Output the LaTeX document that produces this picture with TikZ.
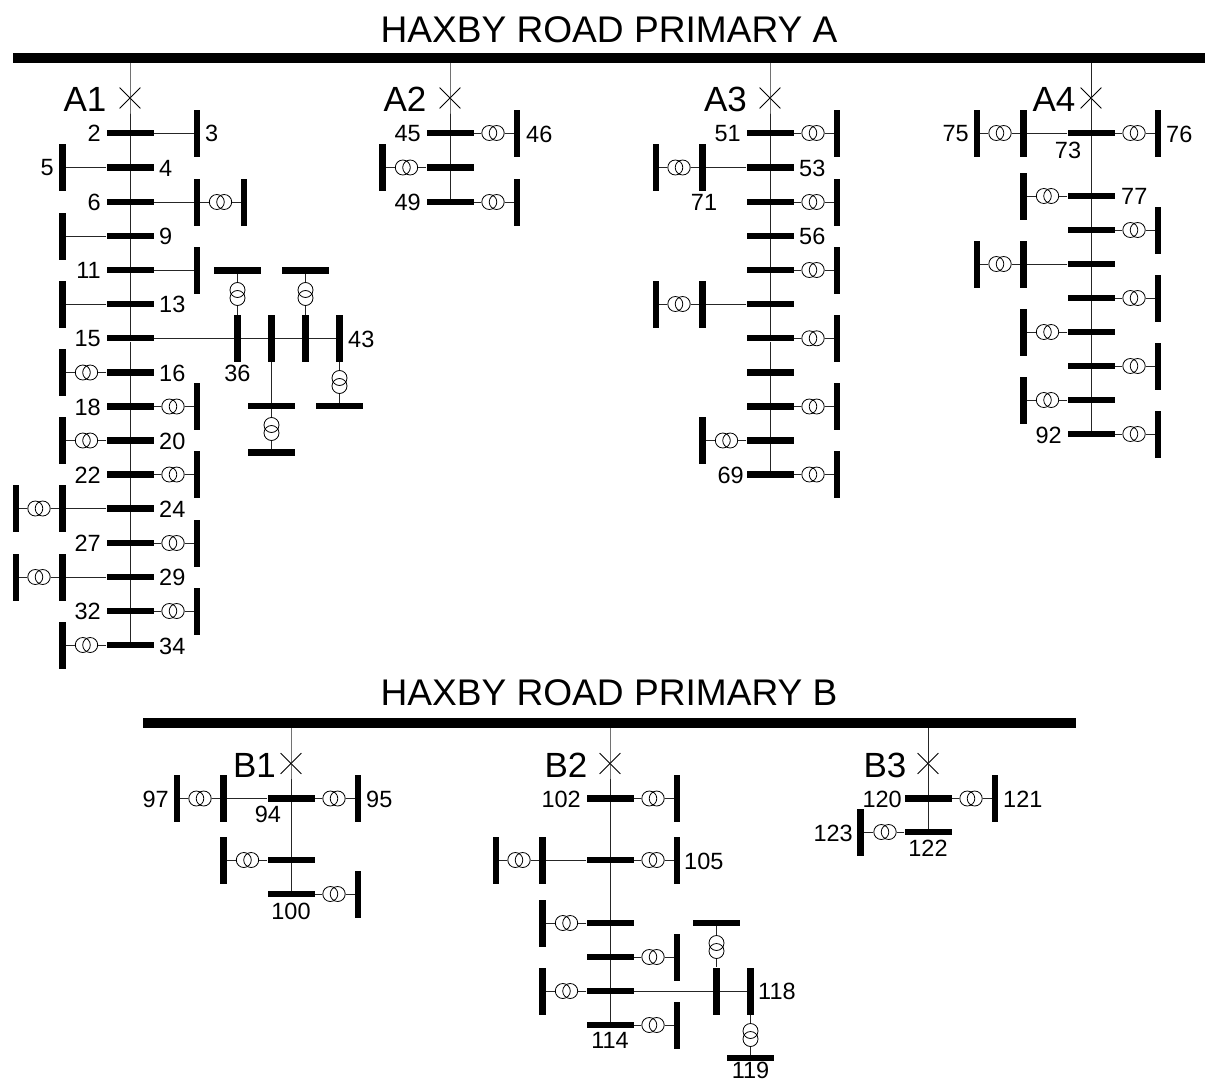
\documentclass[tikz,border=0pt]{standalone}
\usepackage{fontspec}
\setmainfont{Liberation Sans}
\usetikzlibrary{shapes.misc}
\tikzset{
  hbus/.style={rectangle,fill=black,minimum width=47pt,minimum height=6.3pt,inner sep=0pt},
  vbus/.style={rectangle,fill=black,minimum width=6.3pt,minimum height=47pt,inner sep=0pt},
  mainbus/.style={rectangle,fill=black,inner sep=0pt},
  xc/.style={circle,draw=black,line width=0.8pt,minimum size=15pt,inner sep=0pt},
  wire/.style={draw=black!85,line width=1pt},
  breaker/.style={cross out,draw=black,line width=0.8pt,minimum size=20pt,inner sep=0pt},
  num/.style={font=\fontsize{23.5}{24}\selectfont,inner sep=0pt,text=black},
  feeder/.style={font=\fontsize{35}{36}\selectfont,inner sep=0pt,text=black},
  head/.style={font=\fontsize{37.1}{38}\selectfont,inner sep=0pt,text=black}
}
\newcommand\HB[3]{\node[hbus] (#1) at (#2,#3) {};}
\newcommand\VB[3]{\node[vbus] (#1) at (#2,#3) {};}
\newcommand\XFH[3]{\node[xc] (#1a) at (#2-3.7,#3) {};\node[xc] (#1b) at (#2+3.7,#3) {};}
\newcommand\XFV[3]{\node[xc] (#1a) at (#2,#3-4) {};\node[xc] (#1b) at (#2,#3+4) {};}
% bar #1 at x=#2,y=#3: right / left branches
\newcommand\RX[3]{\XFH{#1r}{#2+43}{#3}\VB{#1R}{#2+67}{#3}\draw[wire] (#1) -- (#1ra);\draw[wire] (#1rb) -- (#1R);}
\newcommand\LX[3]{\XFH{#1l}{#2-43.5}{#3}\VB{#1L}{#2-67.5}{#3}\draw[wire] (#1) -- (#1lb);\draw[wire] (#1la) -- (#1L);}
\newcommand\RP[3]{\VB{#1R}{#2+67}{#3}\draw[wire] (#1) -- (#1R);}
\newcommand\LP[3]{\VB{#1L}{#2-67.5}{#3}\draw[wire] (#1) -- (#1L);}
\newcommand\LPX[3]{\LP{#1}{#2}{#3}\XFH{#1l}{#2-91}{#3}\VB{#1F}{#2-114}{#3}\draw[wire] (#1L) -- (#1lb);\draw[wire] (#1la) -- (#1F);}
\newcommand\E[3]{\node[num,anchor=east] (t#1) at (#2,#3) {#1};}
\newcommand\W[3]{\node[num,anchor=west] (t#1) at (#2,#3) {#1};}
\newcommand\C[3]{\node[num] (t#1) at (#2,#3) {#1};}
\begin{document}
\begin{tikzpicture}[x=1pt,y=-1pt]
\useasboundingbox (0,0) rectangle (1205,1081);
% main busbars
\node[mainbus,minimum width=1192pt,minimum height=10pt] (busA) at (609,58) {};
\node[mainbus,minimum width=933pt,minimum height=10pt] (busB) at (609.5,723) {};
\node[head] (titleA) at (609,30) {HAXBY ROAD PRIMARY A};
\node[head] (titleB) at (609,693) {HAXBY ROAD PRIMARY B};
% feeder names
\node[feeder] (nA1) at (85,99) {A1};
\node[feeder] (nA2) at (405,99) {A2};
\node[feeder] (nA3) at (725.5,99) {A3};
\node[feeder] (nA4) at (1054,99) {A4};
\node[feeder] (nB1) at (254.5,765) {B1};
\node[feeder] (nB2) at (566,765) {B2};
\node[feeder] (nB3) at (885,765) {B3};
% breakers
\node[breaker] (xA1) at (130,98) {};
\node[breaker] (xA2) at (450,98) {};
\node[breaker] (xA3) at (770,98) {};
\node[breaker] (xA4) at (1091,98) {};
\node[breaker] (xB1) at (291,763.5) {};
\node[breaker] (xB2) at (610,763.5) {};
\node[breaker] (xB3) at (928,763.5) {};
% ---------- A1
\HB{aa}{130}{133}\HB{ab}{130}{167.5}\HB{ac}{130}{202}\HB{ad}{130}{236}
\HB{ae}{130}{270}\HB{af}{130}{304}\HB{ag}{130}{338.3}\HB{ah}{130}{372.5}
\HB{ai}{130}{406.5}\HB{aj}{130}{440.5}\HB{ak}{130}{474.5}\HB{al}{130}{508.5}
\HB{am}{130}{543}\HB{an}{130}{577}\HB{ao}{130}{611}\HB{ap}{130}{645}
\draw[wire] (busA.south -| xA1) -- (xA1.center) -- (aa) -- (ab) -- (ac) -- (ad) -- (ae) -- (af) -- (ag) -- (ah) -- (ai) -- (aj) -- (ak) -- (al) -- (am) -- (an) -- (ao) -- (ap);
\RP{aa}{130}{133}\LP{ab}{130}{167.5}
\RP{ac}{130}{202}\XFH{acx}{220.5}{202}\VB{acF}{244}{202}\draw[wire] (acR) -- (acxa);\draw[wire] (acxb) -- (acF);
\LP{ad}{130}{236}\RP{ae}{130}{270}\LP{af}{130}{304}
\LX{ah}{130}{372.5}\RX{ai}{130}{406.5}\LX{aj}{130}{440.5}\RX{ak}{130}{474.5}
\LPX{al}{130}{508.5}\RX{am}{130}{543}\LPX{an}{130}{577}\RX{ao}{130}{611}\LX{ap}{130}{645}
% sub-branch of 15
\VB{v36}{237.5}{338.3}\VB{vb}{271.5}{338.3}\VB{vc}{305.5}{338.3}\VB{v43}{339.5}{338.3}
\draw[wire] (ag) -- (v36) -- (vb) -- (vc) -- (v43);
\HB{h36}{237.5}{270.5}\XFV{x36}{237.5}{294}\draw[wire] (h36) -- (x36a);\draw[wire] (x36b) -- (v36);
\HB{hc}{305.5}{270.5}\XFV{xc3}{305.5}{294}\draw[wire] (hc) -- (xc3a);\draw[wire] (xc3b) -- (vc);
\HB{hb1}{271.5}{406}\draw[wire] (vb) -- (hb1);
\XFV{xb1}{271.5}{429}\HB{hb2}{271.5}{452.5}\draw[wire] (hb1) -- (xb1a);\draw[wire] (xb1b) -- (hb2);
\XFV{x43}{339.5}{382}\HB{h43}{339.5}{406}\draw[wire] (v43) -- (x43a);\draw[wire] (x43b) -- (h43);
\E{2}{101}{133.5}\W{3}{205}{133.5}\W{4}{159}{168}\E{5}{54}{168}\E{6}{101}{202.5}\W{9}{159}{236.5}
\E{11}{101}{270.5}\W{13}{159}{304.5}\E{15}{101}{339}\W{16}{159}{373}\E{18}{101}{407}\W{20}{159}{441}
\E{22}{101}{475}\W{24}{159}{509}\E{27}{101}{543.5}\W{29}{159}{577.5}\E{32}{101}{611.5}\W{34}{159}{646}
\C{36}{237.5}{373}\W{43}{348}{339}
% ---------- A2
\HB{ba}{450}{133}\HB{bb}{450}{167.5}\HB{bc}{450}{202}
\draw[wire] (busA.south -| xA2) -- (xA2.center) -- (ba) -- (bb) -- (bc);
\RX{ba}{450}{133}\LX{bb}{450}{167.5}\RX{bc}{450}{202}
\E{45}{421}{134}\W{46}{526}{134}\E{49}{421}{202.5}
% ---------- A3
\HB{ca}{770}{133}\HB{cb}{770}{167.5}\HB{cc}{770}{202}\HB{cd}{770}{236}\HB{ce}{770}{270}\HB{cf}{770}{304}
\HB{cg}{770}{338.3}\HB{ch}{770}{372.5}\HB{ci}{770}{406.5}\HB{cj}{770}{440.5}\HB{ck}{770}{474.5}
\draw[wire] (busA.south -| xA3) -- (xA3.center) -- (ca) -- (cb) -- (cc) -- (cd) -- (ce) -- (cf) -- (cg) -- (ch) -- (ci) -- (cj) -- (ck);
\RX{ca}{770}{133}\LPX{cb}{770}{167.5}\RX{cc}{770}{202}\RX{ce}{770}{270}\LPX{cf}{770}{304}
\RX{cg}{770}{338.3}\RX{ci}{770}{406.5}\LX{cj}{770}{440.5}\RX{ck}{770}{474.5}
\E{51}{741}{134}\W{53}{799}{168}\W{56}{799}{236.5}\C{71}{704}{202}\E{69}{744}{475}
% ---------- A4
\HB{da}{1091}{133}\HB{db}{1091}{196}\HB{dc}{1091}{230}\HB{dd}{1091}{264}\HB{de}{1091}{298}
\HB{df}{1091}{332}\HB{dg}{1091}{366}\HB{dh}{1091}{400}\HB{di}{1091}{434}
\draw[wire] (busA.south -| xA4) -- (xA4.center) -- (da) -- (db) -- (dc) -- (dd) -- (de) -- (df) -- (dg) -- (dh) -- (di);
\RX{da}{1091}{133}\LPX{da}{1091}{133}\LX{db}{1091}{196}\RX{dc}{1091}{230}\LPX{dd}{1091}{264}
\RX{de}{1091}{298}\LX{df}{1091}{332}\RX{dg}{1091}{366}\LX{dh}{1091}{400}\RX{di}{1091}{434}
\E{75}{969}{134}\W{76}{1166}{134}\C{73}{1068}{150}\W{77}{1121}{196}\E{92}{1062}{435}
% ---------- B1
\HB{ea}{291}{798.5}\HB{eb}{291}{860}\HB{ec}{291}{894}
\draw[wire] (busB.south -| xB1) -- (xB1.center) -- (ea) -- (eb) -- (ec);
\RX{ea}{291}{798.5}\LPX{ea}{291}{798.5}\LX{eb}{291}{860}\RX{ec}{291}{894}
\E{97}{169}{799}\W{95}{366}{799}\C{94}{268}{814}\C{100}{291}{911}
% ---------- B2
\HB{fa}{610}{798.5}\HB{fb}{610}{860}\HB{fc}{610}{923}\HB{fd}{610}{957}\HB{fe}{610}{991}\HB{ff}{610}{1025}
\draw[wire] (busB.south -| xB2) -- (xB2.center) -- (fa) -- (fb) -- (fc) -- (fd) -- (fe) -- (ff);
\RX{fa}{610}{798.5}\RX{fb}{610}{860}\LPX{fb}{610}{860}\LX{fc}{610}{923}\RX{fd}{610}{957}\LX{fe}{610}{991}\RX{ff}{610}{1025}
\VB{v117}{716.5}{991}\VB{v118}{750.5}{991}\draw[wire] (fe) -- (v117) -- (v118);
\HB{h117}{716.5}{923}\XFV{x117}{716.5}{947}\draw[wire] (h117) -- (x117a);\draw[wire] (x117b) -- (v117);
\XFV{x119}{750.5}{1035}\HB{h119}{750.5}{1058}\draw[wire] (v118) -- (x119a);\draw[wire] (x119b) -- (h119);
\E{102}{581}{799}\W{105}{684}{861}\W{118}{758}{991}\C{114}{610}{1040}\node[num,anchor=base] (t119) at (750.5,1078.5) {119};
% ---------- B3
\HB{ga}{928}{798.5}\HB{gb}{928}{832}
\draw[wire] (busB.south -| xB3) -- (xB3.center) -- (ga) -- (gb);
\RX{ga}{928}{798.5}
\XFH{gx}{885}{832}\VB{gL}{860.5}{832}\draw[wire] (gb) -- (gxb);\draw[wire] (gxa) -- (gL);
\E{120}{902}{799}\W{121}{1003}{799}\E{123}{853}{833}\C{122}{928}{848}
\end{tikzpicture}
\end{document}
